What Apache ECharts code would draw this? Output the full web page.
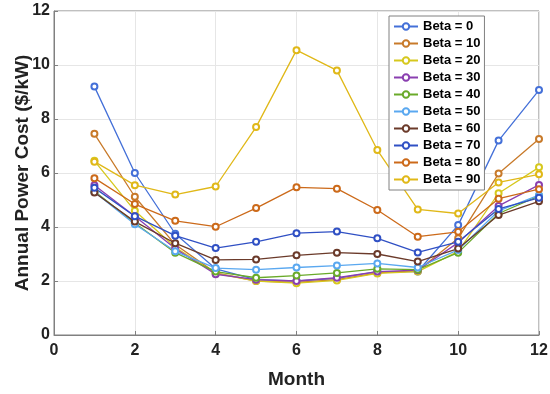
<!DOCTYPE html>
<html><head><meta charset="utf-8">
<script src="https://cdn.jsdelivr.net/npm/echarts@6/dist/echarts.min.js"></script>
<style>html,body{margin:0;padding:0;background:#fff}#c{width:550px;height:394px}</style>
</head><body><div id="c"></div>
<script>
const months = [1,2,3,4,5,6,7,8,9,10,11,12];
const seriesNames = ['Beta = 0','Beta = 10','Beta = 20','Beta = 30','Beta = 40','Beta = 50','Beta = 60','Beta = 70','Beta = 80','Beta = 90'];
const beta0  = [9.2, 6.0, 3.75, 2.45, 2.05, 2.0, 2.1, 2.35, 2.35, 4.07, 7.2, 9.07];
const beta10 = [7.45, 5.12, 3.35, 2.3, 2.0, 1.95, 2.05, 2.3, 2.38, 3.58, 5.98, 7.26];
const beta20 = [6.45, 4.6, 3.25, 2.28, 2.0, 1.92, 2.02, 2.28, 2.35, 3.1, 5.25, 6.21];
const beta30 = [5.55, 4.4, 3.2, 2.25, 2.05, 2.0, 2.12, 2.35, 2.4, 3.42, 4.78, 5.56];
const beta40 = [5.32, 4.15, 3.05, 2.35, 2.12, 2.2, 2.3, 2.45, 2.42, 3.05, 4.5, 5.15];
const beta50 = [5.3, 4.1, 3.1, 2.48, 2.42, 2.5, 2.57, 2.65, 2.5, 3.15, 4.6, 5.18];
const beta60 = [5.28, 4.2, 3.4, 2.78, 2.8, 2.95, 3.05, 3.0, 2.72, 3.2, 4.44, 4.95];
const beta70 = [5.45, 4.4, 3.68, 3.22, 3.45, 3.77, 3.83, 3.58, 3.06, 3.45, 4.67, 5.08];
const beta80 = [5.81, 4.85, 4.23, 4.01, 4.7, 5.47, 5.42, 4.63, 3.64, 3.82, 5.05, 5.4];
const beta90 = [6.42, 5.55, 5.2, 5.5, 7.7, 10.55, 9.8, 6.85, 4.65, 4.5, 5.65, 5.95];
const allValues = [beta0,beta10,beta20,beta30,beta40,beta50,beta60,beta70,beta80,beta90];
const colors = ['#4470d8','#c87a2a','#d6c81e','#8a3fb0','#6aaa2a','#5aa8f0','#6b3a2a','#3050c4','#cc6a1a','#e0b818'];
const xTicks = [0,2,4,6,8,10,12];
const yTicks = [0,2,4,6,8,10,12];

const FONT = '"Liberation Sans", Arial, sans-serif';
const chart = echarts.init(document.getElementById('c'));
chart.setOption({
  animation: false,
  color: colors,
  grid: {left: 54, right: 11, top: 11, bottom: 59, outerBoundsMode: 'none', containLabel: false,
    show: true, borderColor: '#808080', borderWidth: 1, backgroundColor: 'transparent'},
  legend: {
    orient: 'vertical', left: 389, top: 16,
    backgroundColor: '#fff', borderColor: '#808080', borderWidth: 1,
    padding: [4, 4, 4, 4], itemGap: 4, itemWidth: 24, itemHeight: 8,
    textStyle: {fontFamily: FONT, fontWeight: 'bold', fontSize: 13, color: '#000'},
    data: seriesNames
  },
  xAxis: {
    type: 'value', min: 0, max: 12, interval: 2,
    name: 'Month', nameLocation: 'middle', nameGap: 35, nameMoveOverlap: false,
    nameTextStyle: {fontFamily: FONT, fontWeight: 'bold', fontSize: 19, color: '#222'},
    axisLine: {show: true, lineStyle: {color: '#808080'}},
    axisTick: {show: true, inside: true, length: 4, lineStyle: {color: '#808080'}},
    axisLabel: {fontFamily: FONT, fontWeight: 'bold', fontSize: 16, color: '#222', margin: 8,
      formatter: v => xTicks.includes(v) ? String(v) : ''},
    splitLine: {show: true, lineStyle: {color: '#e6e6e6'}}
  },
  yAxis: {
    type: 'value', min: 0, max: 12, interval: 2,
    name: 'Annual Power Cost ($/kW)', nameLocation: 'middle', nameGap: 22, nameMoveOverlap: false,
    nameTextStyle: {fontFamily: FONT, fontWeight: 'bold', fontSize: 19, color: '#222'},
    axisLine: {show: true, lineStyle: {color: '#808080'}},
    axisTick: {show: true, inside: true, length: 4, lineStyle: {color: '#808080'}},
    axisLabel: {fontFamily: FONT, fontWeight: 'bold', fontSize: 16, color: '#222', margin: 4,
      formatter: v => yTicks.includes(v) ? String(v) : ''},
    splitLine: {show: true, lineStyle: {color: '#e6e6e6'}}
  },
  series: seriesNames.map((n, i) => ({
    name: n, type: 'line',
    data: months.map((m, j) => [m, allValues[i][j]]),
    symbol: 'emptyCircle', symbolSize: 6,
    lineStyle: {width: 1.3, color: colors[i]},
    itemStyle: {color: colors[i], borderColor: colors[i], borderWidth: 1},
    emphasis: {disabled: true}
  }))
});
</script></body></html>
